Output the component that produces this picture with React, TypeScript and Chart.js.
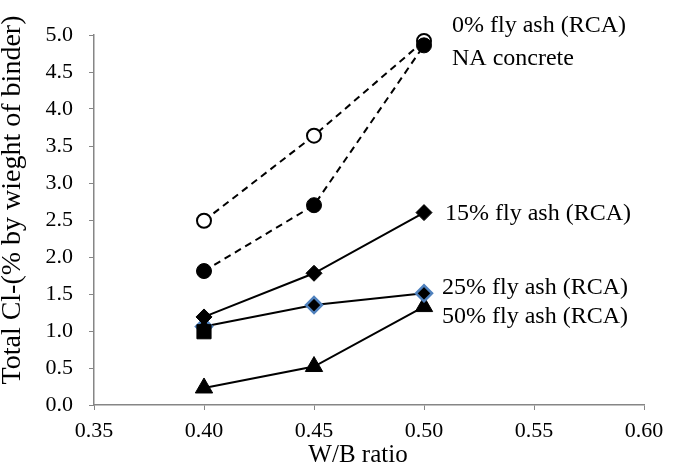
import React, { useEffect, useRef } from "react";
import { Chart, registerables } from "chart.js";

Chart.register(...registerables);

const wbRatio = [0.4, 0.45, 0.5];
const flyAsh0RCA = [2.49, 3.64, 4.92];
const naConcrete = [1.81, 2.7, 4.86];
const flyAsh15RCA = [1.19, 1.78, 2.6];
const flyAsh25RCA = [1.06, 1.35, 1.51];
const flyAsh50RCA = [0.23, 0.52, 1.33];
const squareX = [0.4];
const squareY = [0.99];

const xTicks = [0.35, 0.4, 0.45, 0.5, 0.55, 0.6];
const yTicks = [0, 0.5, 1, 1.5, 2, 2.5, 3, 3.5, 4, 4.5, 5];

const seriesLabels = [
  "0% fly ash (RCA)",
  "NA concrete",
  "15% fly ash (RCA)",
  "25% fly ash (RCA)",
  "50% fly ash (RCA)",
];
const labelAnchorY = [5.12, 4.68, 2.59, 1.59, 1.19];
const labelOffsetX = [28, 28, 21, 18, 18];

const xTitle = "W/B ratio";
const yTitle = "Total Cl-(% by wieght of binder)";

const FONT = '"Liberation Serif", "Times New Roman", serif';

const toPts = (xs: number[], ys: number[]) => xs.map((x, i) => ({ x, y: ys[i] }));

const textPlugin = {
  id: "textPlugin",
  afterDraw(chart: any) {
    const ctx = chart.ctx;
    const xs = chart.scales.x;
    const ys = chart.scales.y;
    ctx.save();
    ctx.fillStyle = "#000";
    ctx.textBaseline = "middle";
    ctx.textAlign = "left";
    ctx.font = `24px ${FONT}`;
    const xAnchor = xs.getPixelForValue(0.5);
    seriesLabels.forEach((t, i) => {
      ctx.fillText(t, xAnchor + labelOffsetX[i], ys.getPixelForValue(labelAnchorY[i]));
    });
    ctx.textAlign = "center";
    ctx.font = `25px ${FONT}`;
    ctx.fillText(xTitle, 358, 455);
    ctx.translate(13, 200);
    ctx.rotate(-Math.PI / 2);
    ctx.font = `28px ${FONT}`;
    ctx.fillText(yTitle, 0, 0);
    ctx.restore();
  },
};

export default function App() {
  const ref = useRef<HTMLCanvasElement>(null);
  useEffect(() => {
    if (!ref.current) return;
    const line = (data: number[], dashed: boolean, extra: any) => ({
      data: toPts(wbRatio, data),
      borderColor: "#000",
      borderWidth: 2,
      borderDash: dashed ? [7, 5] : [],
      showLine: true,
      clip: false,
      pointBorderColor: "#000",
      pointBackgroundColor: "#000",
      pointBorderWidth: 1,
      ...extra,
    });
    const chart = new Chart(ref.current, {
      type: "scatter",
      data: {
        datasets: [
          {
            data: toPts(squareX, squareY),
            showLine: false,
            pointStyle: "rect",
            pointRadius: 10,
            pointBackgroundColor: "#000",
            pointBorderColor: "#000",
            clip: false,
            order: 0,
          },
          line(naConcrete, true, { pointStyle: "circle", pointRadius: 7.5, order: 1 }),
          line(flyAsh0RCA, true, {
            pointStyle: "circle",
            pointRadius: 7,
            pointBackgroundColor: "#fff",
            pointBorderWidth: 2,
            order: 1,
          }),
          line(flyAsh15RCA, false, { pointStyle: "rectRot", pointRadius: 8, order: 1 }),
          line(flyAsh25RCA, false, {
            pointStyle: "rectRot",
            pointRadius: 8,
            pointBorderColor: "#4f81bd",
            pointBorderWidth: 2.5,
            order: 1,
          }),
          line(flyAsh50RCA, false, { pointStyle: "triangle", pointRadius: 10, order: 1 }),
        ] as any,
      },
      options: {
        animation: false,
        responsive: false,
        layout: { padding: { top: 35, right: 41, left: 0, bottom: 0 } },
        plugins: { legend: { display: false }, tooltip: { enabled: false } },
        scales: {
          x: {
            type: "linear",
            min: 0.35,
            max: 0.6,
            afterBuildTicks: (s: any) => {
              s.ticks = xTicks.map((v) => ({ value: v }));
            },
            afterFit: (s: any) => {
              s.height = 61;
            },
            ticks: {
              callback: (v: any) => Number(v).toFixed(2),
              font: { family: FONT, size: 22 },
              color: "#000",
              padding: 8,
              maxRotation: 0,
            },
            grid: { drawOnChartArea: false, drawTicks: true, tickLength: 5, color: "#868686", lineWidth: 1 },
            border: { color: "#868686", width: 1.5 },
          },
          y: {
            type: "linear",
            min: 0,
            max: 5,
            afterBuildTicks: (s: any) => {
              s.ticks = yTicks.map((v) => ({ value: v }));
            },
            afterFit: (s: any) => {
              s.width = 94;
            },
            ticks: {
              callback: (v: any) => Number(v).toFixed(1),
              font: { family: FONT, size: 22 },
              color: "#000",
              padding: 16,
            },
            grid: { drawOnChartArea: false, drawTicks: true, tickLength: 5, color: "#868686", lineWidth: 1 },
            border: { color: "#868686", width: 1.5 },
          },
        },
      },
      plugins: [textPlugin],
    });
    return () => chart.destroy();
  }, []);
  return (
    <div style={{ position: "absolute", left: 0, top: 0, width: 685, height: 466, background: "#fff" }}>
      <canvas ref={ref} width={685} height={466} style={{ display: "block" }} />
    </div>
  );
}
